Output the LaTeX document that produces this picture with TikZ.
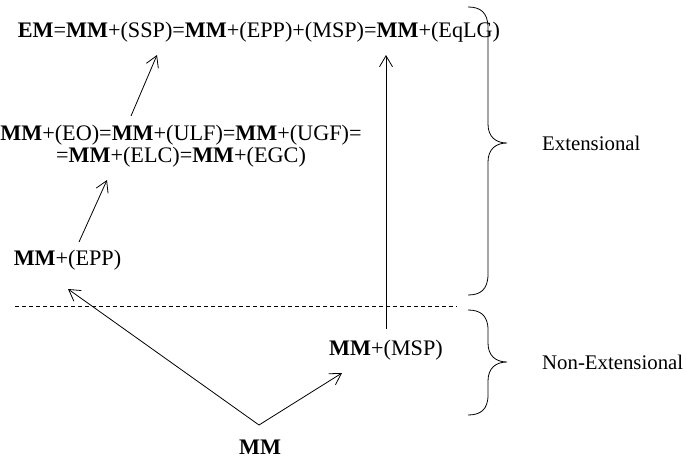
\documentclass[tikz,border=0pt]{standalone}
\usepackage{fontspec}
\setmainfont{Liberation Serif}
\usetikzlibrary{arrows.meta}
\begin{document}
\begin{tikzpicture}[x=1pt,y=-1pt,
  lbl/.style={inner sep=0pt, font=\fontsize{22.2}{22}\selectfont},
  side/.style={inner sep=0pt, anchor=west, font=\fontsize{20.8}{22}\selectfont},
  arr/.style={line width=0.8pt, -{Straight Barb[length=11pt,width=13pt,line width=0.8pt]}},
  brc/.style={line width=0.8pt},
  sep/.style={line width=0.7pt, dash pattern=on 4pt off 3pt}]
\useasboundingbox (0,0) rectangle (687,460);

\node[lbl] (em) at (259,32) {\textbf{EM}=\textbf{MM}+(SSP)=\textbf{MM}+(EPP)+(MSP)=\textbf{MM}+(EqLG)};
\node[lbl, align=center] (eo) at (181,146) {\textbf{MM}+(EO)=\textbf{MM}+(ULF)=\textbf{MM}+(UGF)=\\=\textbf{MM}+(ELC)=\textbf{MM}+(EGC)};
\node[lbl] (epp) at (67.5,260) {\textbf{MM}+(EPP)};
\node[lbl] (msp) at (386,350) {\textbf{MM}+(MSP)};
\node[lbl] (mm) at (260,447) {\textbf{MM}};
\node[side] (ext) at (542,143) {Extensional};
\node[side] (next) at (542,362) {Non-Extensional};

\coordinate (a1s) at (131,116);
\coordinate (a1e) at (157,55);
\coordinate (a2s) at (79,242);
\coordinate (a2e) at (107,180);
\coordinate (v) at (259,425);
\coordinate (a3e) at (68,289);
\coordinate (a4e) at (342,373);
\coordinate (a5s) at (386,329);
\coordinate (a5e) at (386,55);
\coordinate (d1) at (15,306);
\coordinate (d2) at (457,306);

\draw[arr] (a1s) -- (a1e);
\draw[arr] (a2s) -- (a2e);
\draw[arr] (v) -- (a3e);
\draw[arr] (v) -- (a4e);
\draw[arr] (a5s) -- (a5e);
\draw[sep] (d1) -- (d2);

\draw[brc] (468,7) .. controls (480,7) and (488,12) .. (488,28) -- (488,124)
  .. controls (488,137) and (496,143) .. (507,143)
  .. controls (496,143) and (488,149) .. (488,162) -- (488,274)
  .. controls (488,290) and (480,295) .. (468,295);
\draw[brc] (468,310) .. controls (480,310) and (488,315) .. (488,330) -- (488,343)
  .. controls (488,356) and (496,362) .. (507,362)
  .. controls (496,362) and (488,368) .. (488,381) -- (488,395)
  .. controls (488,410) and (480,415) .. (468,415);
\end{tikzpicture}
\end{document}
